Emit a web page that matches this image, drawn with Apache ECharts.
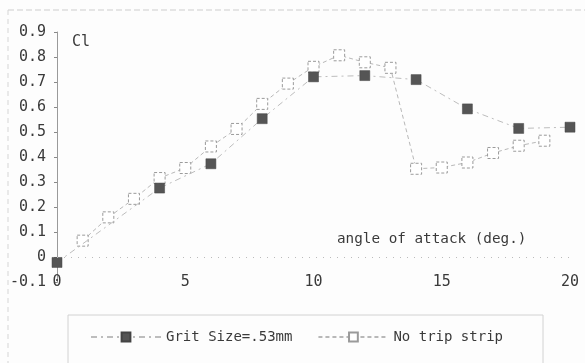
<!DOCTYPE html>
<html>
<head>
<meta charset="utf-8">
<script src="https://cdn.jsdelivr.net/npm/echarts@6/dist/echarts.min.js"></script>
<style>
  html, body { margin: 0; padding: 0; background: #fdfdfd; }
  #chart { width: 585px; height: 363px; }
</style>
</head>
<body>
<div id="chart"></div>
<script>
// Lift coefficient vs. angle of attack, with and without grit trip strip
const gritAngles = [0, 4, 6, 8, 10, 12, 14, 16, 18, 20];
const gritCl = [-0.02, 0.277, 0.374, 0.554, 0.721, 0.726, 0.71, 0.593, 0.515, 0.52];

const cleanAngles = [1, 2, 3, 4, 5, 6, 7, 8, 9, 10, 11, 12, 13, 14, 15, 16, 17, 18, 19];
const cleanCl = [0.067, 0.16, 0.234, 0.317, 0.357, 0.443, 0.513, 0.613, 0.694, 0.761,
                 0.807, 0.779, 0.757, 0.354, 0.359, 0.379, 0.417, 0.446, 0.466];

const xTicks = [0, 5, 10, 15, 20];
const seriesNames = ['Grit Size=.53mm', 'No trip strip'];

const FONT = '"DejaVu Sans Mono", "Liberation Mono", monospace';
const TEXT = '#3a3a3a';

const pairs = (xs, ys) => xs.map((x, i) => [x, ys[i]]);

const chart = echarts.init(document.getElementById('chart'));
chart.setOption({
  animation: false,
  backgroundColor: '#fdfdfd',
  grid: { left: 57, right: 15, top: 32, bottom: 80.5 },
  xAxis: {
    type: 'value',
    min: xTicks[0],
    max: xTicks[xTicks.length - 1],
    interval: 5,
    axisLine: { show: false, onZero: false },
    axisTick: { show: false },
    axisLabel: { margin: -8, fontFamily: FONT, fontSize: 15, color: TEXT },
    splitLine: { show: false }
  },
  yAxis: {
    type: 'value',
    min: -0.1,
    max: 0.9,
    interval: 0.1,
    axisLine: { show: true, lineStyle: { color: '#9a9a9a', width: 1 } },
    axisTick: { show: true, length: 3, lineStyle: { color: '#888' } },
    axisLabel: {
      margin: 11, fontFamily: FONT, fontSize: 15, color: TEXT,
      formatter: v => Math.abs(v) < 1e-9 ? '0' : v.toFixed(1)
    },
    splitLine: { show: false }
  },
  legend: {
    left: 85,
    top: 325,
    itemWidth: 70,
    itemHeight: 11,
    itemGap: 25,
    textStyle: { fontFamily: FONT, fontSize: 14, color: TEXT },
    data: seriesNames
  },
  graphic: [
    // scanned page frame
    { type: 'line', shape: { x1: 8, y1: 10, x2: 585, y2: 10 },
      style: { stroke: '#cdcdcd', lineWidth: 1, lineDash: [6, 3] }, silent: true },
    { type: 'line', shape: { x1: 8, y1: 10, x2: 8, y2: 363 },
      style: { stroke: '#d5d5d5', lineWidth: 1, lineDash: [5, 4] }, silent: true },
    // legend box
    { type: 'rect', shape: { x: 68, y: 315, width: 475, height: 70 },
      style: { fill: 'none', stroke: '#d2d2d2', lineWidth: 1 }, silent: true },
    { type: 'text', left: 72, top: 35,
      style: { text: 'Cl', fontFamily: FONT, fontSize: 15, fill: TEXT } },
    { type: 'text', left: 337, top: 232,
      style: { text: 'angle of attack (deg.)', fontFamily: FONT, fontSize: 14.3, fill: TEXT } }
  ],
  series: [
    {
      name: seriesNames[0],
      type: 'line',
      data: pairs(gritAngles, gritCl),
      symbol: 'rect',
      symbolSize: 10,
      itemStyle: { color: '#555', borderColor: '#444', borderWidth: 0.5 },
      lineStyle: { color: '#bdbdbd', width: 1, type: [6, 4, 2, 4] },
      // dotted zero line across the plot
      markLine: {
        silent: true,
        symbol: 'none',
        label: { show: false },
        lineStyle: { color: '#bbb', type: [1, 6], width: 1 },
        data: [{ yAxis: 0 }]
      },
      z: 3
    },
    {
      name: seriesNames[1],
      type: 'line',
      data: pairs(cleanAngles, cleanCl),
      symbol: 'rect',
      symbolSize: 11,
      itemStyle: { color: '#ffffff', borderColor: '#9a9a9a', borderWidth: 1, borderType: [3, 2] },
      lineStyle: { color: '#b8b8b8', width: 1, type: [4, 3] },
      z: 2
    }
  ]
});
</script>
</body>
</html>
